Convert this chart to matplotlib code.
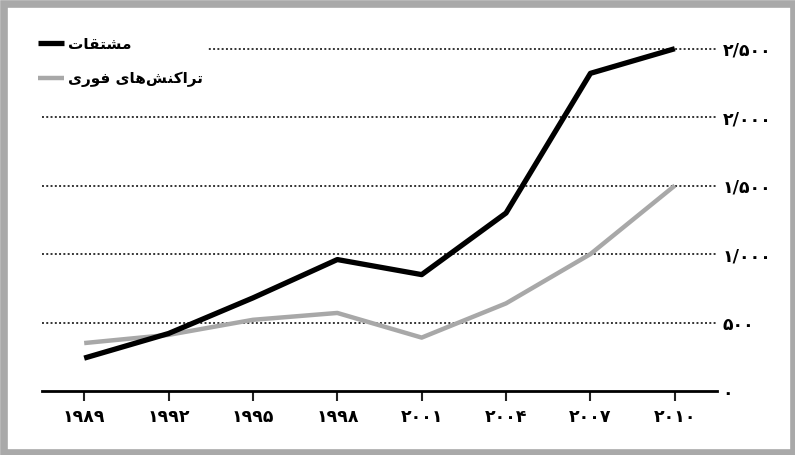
import numpy as np
import matplotlib
matplotlib.use("Agg")
import matplotlib.pyplot as plt
from matplotlib.patches import Rectangle

# data
years = [1989, 1992, 1995, 1998, 2001, 2004, 2007, 2010]
derivatives = [240, 420, 680, 960, 850, 1300, 2320, 2500]
spot = [350, 410, 520, 570, 390, 640, 1000, 1500]

# Persian digits, thousands separator written as "/"
year_labels = ["۱۹۸۹", "۱۹۹۲", "۱۹۹۵", "۱۹۹۸", "۲۰۰۱", "۲۰۰۴", "۲۰۰۷", "۲۰۱۰"]
y_ticks = [0, 500, 1000, 1500, 2000, 2500]
y_labels = ["۰", "۵۰۰", "۱/۰۰۰", "۱/۵۰۰", "۲/۰۰۰", "۲/۵۰۰"]

# legend names: "مشتقات" and "تراکنش‌های فوری", pre-shaped in visual order
# because matplotlib does no arabic joining / bidi on its own
name_derivatives = "\uFE95\uFE8E\uFED8\uFE98\uFEB8\uFEE3"
name_spot = "\uFBFC\uFEAD\uFEEE\uFED3 \uFBFC\uFE8E\uFEEB\uFEB6\uFEE8\uFB90\uFE8D\uFEAE\uFE97"

plt.rcParams["font.family"] = ["DejaVu Sans"]

fig = plt.figure(figsize=(7.95, 4.55), dpi=100)
fig.patch.set_facecolor("white")
ax = fig.add_axes([42 / 795, 1 - 391 / 455, (717 - 42) / 795, (391 - 35) / 455])

for v in y_ticks[1:]:
    ax.axhline(v, color="#333333", lw=1.4, ls=(0, (1, 1.2)), zorder=1)

ax.plot(years, derivatives, color="black", lw=3.8, solid_capstyle="butt",
        zorder=3, label=name_derivatives)
ax.plot(years, spot, color="#a8a8a8", lw=3.2, solid_capstyle="butt",
        zorder=2, label=name_spot)

ax.set_xlim(1987.5, 2011.5)
ax.set_ylim(0, 2600)

ax.set_xticks(years)
ax.set_xticklabels(year_labels, fontsize=12.5, fontweight="bold")
ax.set_yticks(y_ticks)
ax.set_yticklabels(y_labels, fontsize=12.5, fontweight="bold")
ax.yaxis.tick_right()
ax.tick_params(axis="y", length=0, pad=4)
ax.tick_params(axis="x", length=7, width=1.5, color="#222222", pad=5)

for s in ["top", "left", "right"]:
    ax.spines[s].set_visible(False)
ax.spines["bottom"].set_linewidth(2)

leg = ax.legend(loc="upper left", bbox_to_anchor=(-0.024, 1.03), frameon=True,
                handlelength=1.7, handletextpad=0.25, labelspacing=1.3,
                borderpad=0.3, prop={"weight": "bold", "size": 11})
leg.get_frame().set_facecolor("white")
leg.get_frame().set_edgecolor("none")
leg.get_frame().set_alpha(1)
leg.set_zorder(5)

# grey frame round the whole picture
fig.patches.append(Rectangle((4 / 795, 2.5 / 455), 790 / 795, 449 / 455,
                             transform=fig.transFigure, fill=False,
                             edgecolor="#a9a9a9", lw=5.5, zorder=10))

fig.savefig("out.png", dpi=100)
